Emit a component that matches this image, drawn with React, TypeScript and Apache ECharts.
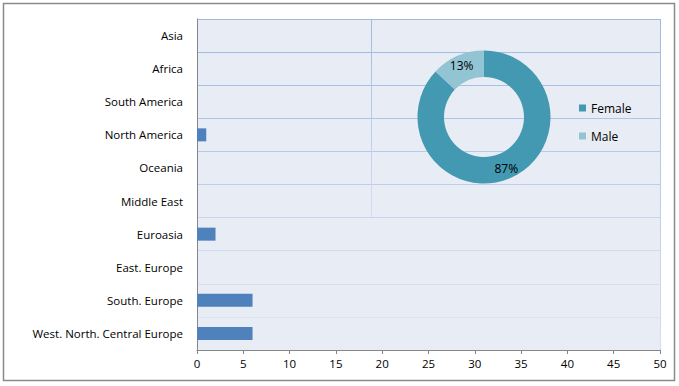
import React, { useEffect, useRef } from "react";
import * as echarts from "echarts";

const regions = [
  "Asia",
  "Africa",
  "South America",
  "North America",
  "Oceania",
  "Middle East",
  "Euroasia",
  "East. Europe",
  "South. Europe",
  "West. North. Central Europe",
];
const regionCounts = [0, 0, 0, 1, 0, 0, 2, 0, 6, 6];
const genderNames = ["Female", "Male"];
const genderShares = [87, 13];
const xTicks = { min: 0, max: 50, interval: 5 };

const FONT = "'Open Sans', 'Noto Sans', sans-serif";
const gridColors = [
  "#a0b9e4",
  "#a4bce5",
  "#a9c0e6",
  "#afc4e8",
  "#b6c9ea",
  "#bdceec",
  "#c6d5ee",
  "#cfdbf0",
  "#d7e0f1",
  "#dde4f1",
  "#dde4f1",
];

export default function App() {
  const ref = useRef<HTMLDivElement>(null);
  useEffect(() => {
    document.body.style.margin = "0";
    const chart = echarts.init(ref.current!, undefined, { renderer: "svg" });
    const fade = (a: string, b: string) =>
      new echarts.graphic.LinearGradient(0, 0, 0, 1, [
        { offset: 0, color: a },
        { offset: 1, color: b },
      ]);
    chart.setOption({
      animation: false,
      backgroundColor: "#ffffff",
      textStyle: { fontFamily: FONT },
      grid: {
        left: 197,
        top: 19,
        right: 19,
        bottom: 36,
        show: true,
        backgroundColor: "#e8ecf4",
        borderWidth: 0,
      },
      graphic: [
        {
          type: "rect",
          z: 100,
          shape: { x: 3.5, y: 3.5, width: 671, height: 377 },
          style: { fill: "none", stroke: "#8a8a8a", lineWidth: 1.5 },
          silent: true,
        },
        {
          type: "rect",
          z: 100,
          shape: { x: 371, y: 19, width: 1, height: 198 },
          style: { fill: fade("#a0b9e4", "#d3def0") },
          silent: true,
        },
        {
          type: "rect",
          z: 100,
          shape: { x: 660, y: 19, width: 1, height: 331 },
          style: { fill: fade("#a0b9e4", "#d8dfea") },
          silent: true,
        },
      ],
      xAxis: {
        type: "value",
        min: xTicks.min,
        max: xTicks.max,
        interval: xTicks.interval,
        axisLine: { show: true, lineStyle: { color: "#868686", width: 1 } },
        axisTick: { show: true, length: 4, lineStyle: { color: "#868686" } },
        axisLabel: { color: "#000", fontSize: 11.5, margin: 7, fontFamily: FONT },
        splitLine: { show: false },
      },
      yAxis: {
        type: "category",
        data: regions,
        inverse: true,
        axisLine: { show: true, lineStyle: { color: "#868686", width: 1 } },
        axisTick: { show: false },
        axisLabel: { color: "#000", fontSize: 11.5, margin: 14, fontFamily: FONT },
        splitLine: { show: true, lineStyle: { color: gridColors, width: 1 } },
      },
      legend: {
        orient: "vertical",
        left: 574,
        top: 97,
        itemWidth: 7,
        itemHeight: 7,
        itemGap: 16,
        icon: "rect",
        data: genderNames,
        textStyle: { color: "#000", fontSize: 12, fontFamily: FONT },
      },
      series: [
        {
          type: "bar",
          data: regionCounts,
          barWidth: 13,
          itemStyle: { color: "#4f81bd" },
          silent: true,
        },
        {
          type: "pie",
          center: [484, 117],
          radius: [40, 66.5],
          startAngle: 90,
          clockwise: true,
          percentPrecision: 0,
          silent: true,
          itemStyle: { borderWidth: 0 },
          label: {
            show: true,
            position: "inside",
            formatter: "{d}%",
            color: "#000",
            fontSize: 12,
            fontFamily: FONT,
          },
          labelLine: { show: false },
          data: genderNames.map((n, i) => ({
            name: n,
            value: genderShares[i],
            itemStyle: { color: i === 0 ? "#4399b1" : "#93c4d4" },
          })),
        },
      ],
    });
    return () => chart.dispose();
  }, []);
  return <div ref={ref} style={{ width: 679, height: 386 }} />;
}
